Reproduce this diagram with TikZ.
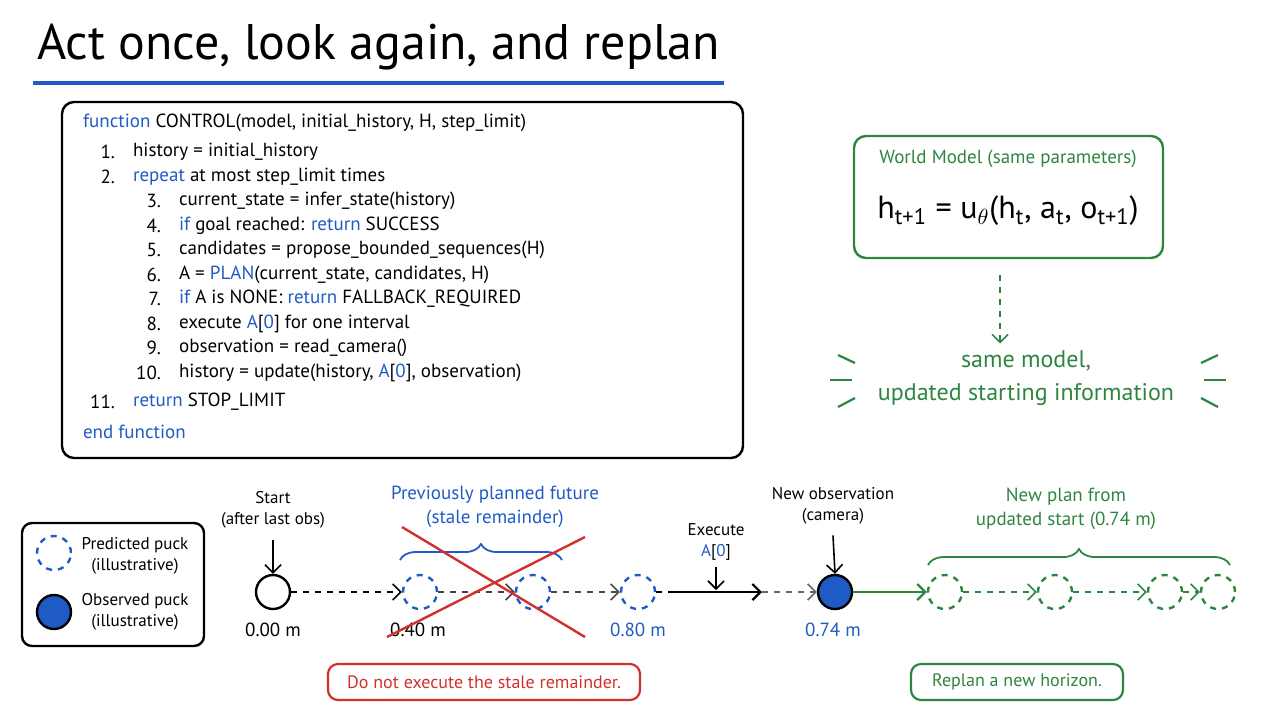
\documentclass[tikz,border=0pt]{standalone}
\usepackage{fontspec}
\setmainfont{PT Sans}
\usetikzlibrary{decorations.pathreplacing,arrows.meta}
\definecolor{kblue}{HTML}{1F5BC4}
\definecolor{kgreen}{HTML}{2E8540}
\definecolor{kred}{HTML}{D0312D}
\tikzset{
  puck/.style={circle,draw,line width=1.2pt,minimum size=17pt,inner sep=0pt},
  pred/.style={puck,kblue,dashed},
  newp/.style={puck,kgreen,dashed},
  lbl/.style={align=center,font=\fontsize{8.5}{10.5}\selectfont},
  code/.style={anchor=west,font=\fontsize{9.5}{10}\selectfont},
  num/.style={anchor=east,font=\fontsize{9.5}{10}\selectfont},
  flow/.style={-{Straight Barb[length=4pt]},line width=0.8pt},
}
\newcommand{\kw}[1]{\textcolor{kblue}{#1}}
\begin{document}
\begin{tikzpicture}[x=0.5pt,y=-0.5pt]
  \useasboundingbox (0,0) rectangle (1280,720);
  % title
  \node[anchor=west,font=\fontsize{25}{28}\selectfont] (title) at (30,47) {Act once, look again, and replan};
  \draw[kblue,line width=2pt] (33,83) -- (724,83);

  % pseudocode
  \draw[line width=1.2pt,rounded corners=6pt] (62,102) rectangle (743,458);
  \node[code] at (76,123) {\kw{function} CONTROL(model, initial\_history, H, step\_limit)};
  \node[num] at (122,152) {1.}; \node[code] at (126,152) {history = initial\_history};
  \node[num] at (122,177) {2.}; \node[code] at (126,177) {\kw{repeat} at most step\_limit times};
  \node[num] at (168,201) {3.}; \node[code] at (172,201) {current\_state = infer\_state(history)};
  \node[num] at (168,226) {4.}; \node[code] at (172,226) {\kw{if} goal reached: \kw{return} SUCCESS};
  \node[num] at (168,250) {5.}; \node[code] at (172,250) {candidates = propose\_bounded\_sequences(H)};
  \node[num] at (168,275) {6.}; \node[code] at (172,275) {A = \kw{PLAN}(current\_state, candidates, H)};
  \node[num] at (168,299) {7.}; \node[code] at (172,299) {\kw{if} A is NONE: \kw{return} FALLBACK\_REQUIRED};
  \node[num] at (168,324) {8.}; \node[code] at (172,324) {execute \kw{A}[\kw{0}] for one interval};
  \node[num] at (168,348) {9.}; \node[code] at (172,348) {observation = read\_camera()};
  \node[num] at (168,373) {10.}; \node[code] at (172,373) {history = update(history, \kw{A}[\kw{0}], observation)};
  \node[num] at (122,402) {11.}; \node[code] at (126,402) {\kw{return} STOP\_LIMIT};
  \node[code] at (76,432) {\kw{end function}};

  % world model
  \draw[kgreen,line width=1.2pt,rounded corners=6pt] (854,136) rectangle (1163,258);
  \node[kgreen,font=\fontsize{9.5}{10}\selectfont] (wmtitle) at (1008,159) {World Model (same parameters)};
  \node[font=\fontsize{16}{18}\selectfont] (wmeq) at (1008,211) {h\textsubscript{t+1} = u\textsubscript{$\theta$}(h\textsubscript{t}, a\textsubscript{t}, o\textsubscript{t+1})};
  \coordinate (wmout) at (1000,275);
  \node[kgreen,lbl,font=\fontsize{12}{16.5}\selectfont] (same) at (1026,378) {same model,\\updated starting information};
  \draw[kgreen,flow,dashed] (wmout) -- (same.north -| wmout);
  \foreach \s in {1,-1}{
    \draw[kgreen,line width=1.1pt] ({1028-\s*190},355) -- ({1028-\s*173},363);
    \draw[kgreen,line width=1.1pt] ({1028-\s*198},380) -- ({1028-\s*176},380);
    \draw[kgreen,line width=1.1pt] ({1028-\s*190},407) -- ({1028-\s*173},398);
  }

  % legend
  \draw[line width=1.2pt,rounded corners=5pt] (22,523) rectangle (204,646);
  \node[pred] (legpred) at (54,553) {};
  \node[lbl] at (135,556) {Predicted puck\\(illustrative)};
  \node[puck,fill=kblue] (legobs) at (54,612) {};
  \node[lbl] at (135,612) {Observed puck\\(illustrative)};

  % timeline
  \node[puck] (start) at (273,592) {};
  \node[pred] (p1) at (420,592) {};
  \node[pred] (p2) at (533,592) {};
  \node[pred] (p3) at (638,592) {};
  \node[puck,fill=kblue] (obs) at (835,592) {};
  \node[newp] (n1) at (945,592) {};
  \node[newp] (n2) at (1055,592) {};
  \node[newp] (n3) at (1165,592) {};
  \node[newp] (n4) at (1218,592) {};
  \coordinate (exA) at (668,592);
  \coordinate (exB) at (762,592);

  \draw[flow,dashed] (start) -- (p1);
  \draw[flow,dashed,black!75] (p1) -- (p2);
  \draw[flow,dashed,black!70] (p2) -- (p3);
  \draw[line width=0.8pt,dashed] (p3) -- (exA);
  \draw[flow,line width=1.1pt] (exA) -- (exB);
  \draw[flow,dashed,black!60] (exB) -- (obs);
  \draw[flow,kgreen,line width=1.1pt] (obs) -- (n1);
  \draw[flow,kgreen,dashed] (n1) -- (n2);
  \draw[flow,kgreen,dashed] (n2) -- (n3);
  \draw[flow,kgreen,dashed] (n3) -- (n4);

  \node[lbl] (startlbl) at (273,510) {Start\\(after last obs)};
  \draw[flow] (startlbl.south) ++(0,4) -- (start.north);
  \node[lbl] (exlbl) at (716,542) {Execute\\\kw{A}[\kw{0}]};
  \draw[flow] (exlbl.south) -- (716,590);
  \node[lbl] (obslbl) at (833,506) {New observation\\(camera)};
  \draw[flow] (obslbl.south) ++(0,4) -- (obs.north);

  \node[lbl,font=\fontsize{9.5}{11}\selectfont] at (273,630) {0.00 m};
  \node[lbl,font=\fontsize{9.5}{11}\selectfont] at (418,630) {0.40 m};
  \node[lbl,kblue,font=\fontsize{9.5}{11}\selectfont] at (638,630) {0.80 m};
  \node[lbl,kblue,font=\fontsize{9.5}{11}\selectfont] at (833,630) {0.74 m};

  \node[lbl,kblue,font=\fontsize{9.5}{12}\selectfont] (stale) at (495,507) {Previously planned future\\(stale remainder)};
  \draw[kblue,line width=0.9pt,decorate,decoration={brace,amplitude=8pt}] (400,560) -- (562,560);
  \draw[kred,line width=1.2pt] (402,527) -- (585,637);
  \draw[kred,line width=1.2pt] (387,637) -- (585,537);

  \node[lbl,kgreen,font=\fontsize{9.5}{12}\selectfont] (newplan) at (1066,509) {New plan from\\updated start (0.74 m)};
  \draw[kgreen,line width=0.9pt,decorate,decoration={brace,amplitude=8pt}] (928,565) -- (1230,565);

  % notes
  \node[draw=kred,text=kred,line width=1.1pt,rounded corners=5pt,minimum width=156pt,minimum height=18pt,font=\fontsize{9}{10}\selectfont] (noexec) at (484,682) {Do not execute the stale remainder.};
  \node[draw=kgreen,text=kgreen,line width=1.1pt,rounded corners=5pt,minimum width=106pt,minimum height=18pt,font=\fontsize{9}{10}\selectfont] (replan) at (1017,682) {Replan a new horizon.};
\end{tikzpicture}
\end{document}
